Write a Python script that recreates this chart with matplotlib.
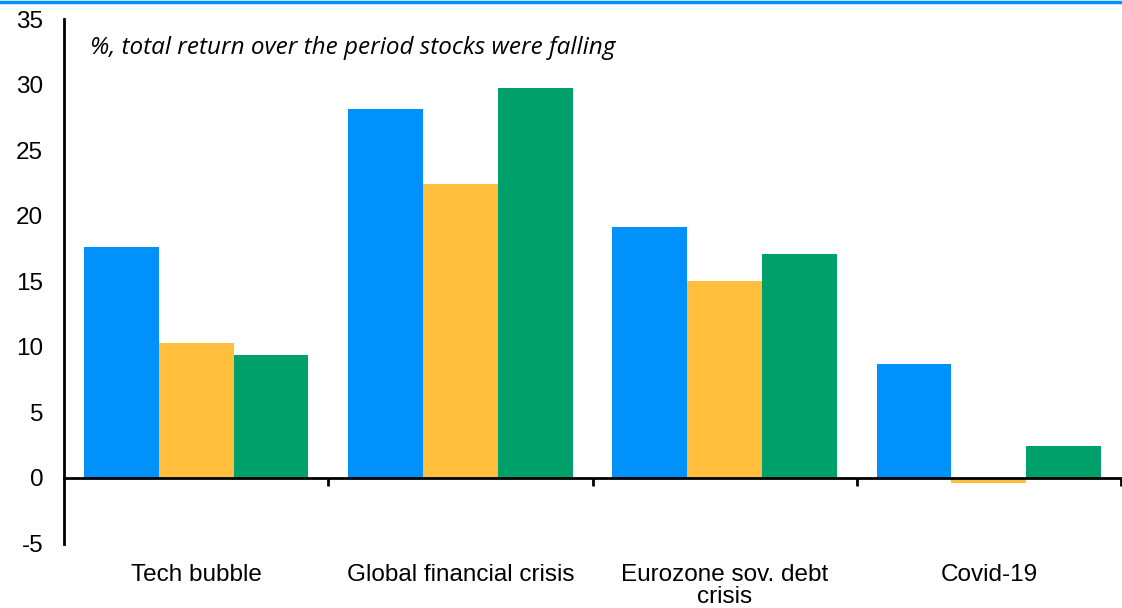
import matplotlib.pyplot as plt
from matplotlib.lines import Line2D
from matplotlib.transforms import blended_transform_factory

plt.rcParams['font.family'] = ['Liberation Sans', 'DejaVu Sans']
plt.rcParams['axes.unicode_minus'] = False

categories = ["Tech bubble", "Global financial crisis", "Eurozone sov. debt\ncrisis", "Covid-19"]
series_a = [17.6, 28.1, 19.1, 8.7]
series_b = [10.3, 22.4, 15.0, -0.4]
series_c = [9.4, 29.7, 17.1, 2.4]
colors = ["#0091fa", "#ffbe3b", "#00a06b"]

W, H = 1122, 608
fig = plt.figure(figsize=(W / 100, H / 100), dpi=100)
ax = fig.add_axes([64 / W, 1 - 543.5 / H, 1 - 64 / W - 1 / W, (543.5 - 19) / H])

# blue rule across the top
fig.add_artist(Line2D([0, 1], [1 - 1.5 / H, 1 - 1.5 / H], transform=fig.transFigure,
                      color="#0091fa", lw=2.5))

bw = 0.85 / 3
for i, vals in enumerate([series_a, series_b, series_c]):
    xs = [k + (i - 1) * bw for k in range(len(categories))]
    ax.bar(xs, vals, width=bw, color=colors[i], linewidth=0)

ax.set_xlim(-0.5, len(categories) - 0.5)
ax.set_ylim(-5, 35)
ax.set_yticks(range(-5, 36, 5))
ax.tick_params(axis='y', length=0, labelsize=17.5, pad=15)

ax.spines['top'].set_visible(False)
ax.spines['right'].set_visible(False)
ax.spines['left'].set_linewidth(2)
ax.spines['bottom'].set_position(('data', 0))
ax.spines['bottom'].set_linewidth(2)
ax.set_xticks([k + 0.5 for k in range(len(categories))])
ax.set_xticklabels([])
ax.tick_params(axis='x', direction='out', length=6, width=2)

# category names sit below the plot, not on the zero line
trans = blended_transform_factory(ax.transData, ax.transAxes)
for k, name in enumerate(categories):
    ax.text(k, -0.04, name, transform=trans, ha='center', va='top', fontsize=17.5,
            linespacing=1.0)

ax.text(0.025, 0.945, "%, total return over the period stocks were falling",
        transform=ax.transAxes, fontsize=17.5, style='italic', family='Open Sans',
        va='center', ha='left')

fig.savefig("out.png", dpi=100)
